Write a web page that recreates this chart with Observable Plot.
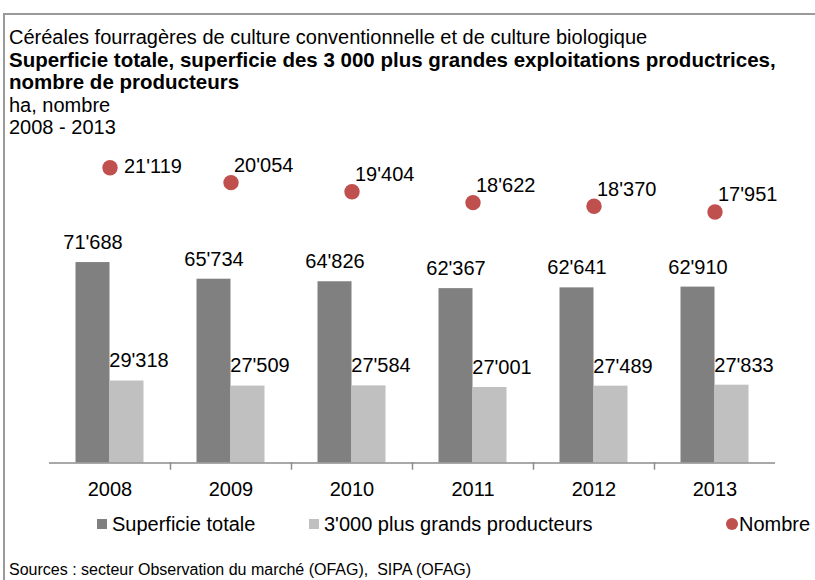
<!DOCTYPE html>
<html>
<head>
<meta charset="utf-8">
<script src="https://cdn.jsdelivr.net/npm/d3@7"></script>
<script src="https://cdn.jsdelivr.net/npm/@observablehq/plot@0.6"></script>
<style>
  html, body { margin: 0; padding: 0; background: #fff; }
  #wrap { position: relative; width: 815px; height: 580px; overflow: hidden; font-family: "Liberation Sans", Arial, sans-serif; color: #000; }
  #border { position: absolute; left: 3px; top: 13px; width: 900px; height: 700px; border-top: 2px solid #9a9a9a; border-left: 2px solid #9a9a9a; }
  #title { position: absolute; left: 9px; top: 26px; font-size: 20px; line-height: 22.5px; white-space: nowrap; }
  #title b { font-weight: bold; font-size: 20.5px; }
  #chart { position: absolute; left: 0; top: 100px; }
  .leg { position: absolute; top: 512px; font-size: 20px; line-height: 24px; white-space: nowrap; }
  .sw { display: inline-block; width: 10px; height: 10px; margin-right: 5px; vertical-align: 2px; }
  #src { position: absolute; left: 9px; top: 561px; font-size: 16px; line-height: 18px; white-space: nowrap; }
</style>
</head>
<body>
<div id="wrap">
  <div id="border"></div>
  <div id="title">
    Céréales fourragères de culture conventionnelle et de culture biologique<br>
    <b>Superficie totale, superficie des 3 000 plus grandes exploitations productrices,<br>nombre de producteurs</b><br>
    ha, nombre<br>
    2008 - 2013
  </div>
  <div id="chart"></div>
  <div id="legend"></div>
  <div id="src">Sources : secteur Observation du marché (OFAG),&nbsp; SIPA (OFAG)</div>
</div>
<script>
// ---- data ----
const years = ["2008", "2009", "2010", "2011", "2012", "2013"];
const superficieTotale = [71688, 65734, 64826, 62367, 62641, 62910];
const plusGrands = [29318, 27509, 27584, 27001, 27489, 27833];
const nombre = [21119, 20054, 19404, 18622, 18370, 17951];
const seriesNames = ["Superficie totale", "3'000 plus grands producteurs", "Nombre"];
const seriesColors = ["#808080", "#c0c0c0", "#c0504d"];

// axis extents (primary: ha, secondary: nombre)
const yMax = 125000;
const y2Max = 25000;

const fmt = d3.formatLocale({decimal: ".", thousands: "'", grouping: [3], currency: ["", ""]}).format(",");

const bars = years.flatMap((yr, i) => [
  {year: yr, series: seriesNames[0], value: superficieTotale[i]},
  {year: yr, series: seriesNames[1], value: plusGrands[i]}
]);
const dots = years.map((yr, i) => ({year: yr, value: nombre[i]}));
const toPrimary = v => v * yMax / y2Max;

const chart = Plot.plot({
  width: 815,
  height: 400,
  marginTop: 13,
  marginBottom: 37.5,
  marginLeft: 47.5,
  marginRight: 38.5,
  style: {fontFamily: "Liberation Sans, Arial, sans-serif", fontSize: "20px", color: "#000", background: "transparent"},
  fx: {domain: years, padding: 0, label: null, axis: "bottom", tickSize: 0, tickPadding: 19},
  x: {domain: seriesNames.slice(0, 2), paddingInner: 0, paddingOuter: 0.736, axis: null},
  y: {domain: [0, yMax], axis: null},
  color: {domain: seriesNames, range: seriesColors},
  marks: [
    Plot.barY(bars, {fx: "year", x: "series", y: "value", fill: "series"}),
    Plot.ruleY([0], {stroke: "#8c8c8c", strokeWidth: 1.5}),
    ...years.slice(0, -1).map(yr => Plot.frame({anchor: "right", fx: () => yr, stroke: "#8c8c8c", strokeWidth: 1.5, insetTop: 349.5, insetBottom: -6})),
    Plot.text(bars.filter(d => d.series === seriesNames[0]), {fx: "year", x: "series", y: "value", text: d => fmt(d.value), dy: -20, fill: "#000"}),
    Plot.text(bars.filter(d => d.series === seriesNames[1]), {fx: "year", x: "series", y: "value", text: d => fmt(d.value), dx: 12, dy: -20, fill: "#000"}),
    Plot.dot(dots, {fx: "year", y: d => toPrimary(d.value), r: 7.7, fill: seriesColors[2], stroke: "none"}),
    Plot.text(dots, {filter: (d, i) => i === 0, fx: "year", y: d => toPrimary(d.value), text: d => fmt(d.value), textAnchor: "start", dx: 14, dy: -1, fill: "#000"}),
    Plot.text(dots, {filter: (d, i) => i > 0, fx: "year", y: d => toPrimary(d.value), text: d => fmt(d.value), textAnchor: "start", dx: 3, dy: -17, fill: "#000"})
  ]
});
document.getElementById("chart").appendChild(chart);

// legend
const legendPos = [97, 309, 726];
const legend = document.getElementById("legend");
seriesNames.forEach((name, i) => {
  const item = document.createElement("div");
  item.className = "leg";
  item.style.left = legendPos[i] + "px";
  const sw = document.createElement("span");
  sw.className = "sw";
  sw.style.background = seriesColors[i];
  if (i === 2) { sw.style.borderRadius = "50%"; sw.style.width = "12px"; sw.style.height = "12px"; sw.style.marginRight = "1px"; sw.style.verticalAlign = "1px"; }
  item.appendChild(sw);
  item.appendChild(document.createTextNode(name));
  legend.appendChild(item);
});
</script>
</body>
</html>
